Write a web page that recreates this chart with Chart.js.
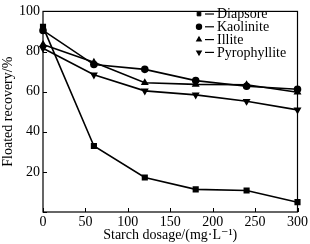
<!DOCTYPE html>
<html>
<head>
<meta charset="utf-8">
<script src="https://cdn.jsdelivr.net/npm/chart.js@4.4.1/dist/chart.umd.min.js"></script>
<style>
  html, body { margin: 0; padding: 0; background: #fff; }
  #wrap { width: 310px; height: 244px; }
</style>
</head>
<body>
<div id="wrap"><canvas id="c" width="310" height="244"></canvas></div>
<script>
// Dosage (mg/L) and floated recovery (%)
const dosage = [0, 60, 120, 180, 240, 300];
const diapsore = [92.3, 32.9, 17.2, 11.3, 10.7, 4.9];
const kaolinite = [90.5, 73.5, 71.1, 65.5, 62.7, 61.2];
const illite = [83.5, 74.6, 64.4, 63.6, 63.4, 59.7];
const pyrophyllite = [81.6, 68.4, 60.4, 58.4, 55.2, 50.9];
const names = ["Diapsore", "Kaolinite", "Illite", "Pyrophyllite"];
const styles = ["rect", "circle", "triangle", "triangle"];
const rotations = [0, 0, 0, 180];

const serif = "'Liberation Serif', 'DejaVu Serif', serif";

function pts(ys) {
    return dosage.map((x, i) => ({ x: x, y: ys[i] }));
}

const series = [diapsore, kaolinite, illite, pyrophyllite];
const datasets = series.map((ys, i) => ({
    label: names[i],
    data: pts(ys),
    borderColor: "#000",
    backgroundColor: "#000",
    borderWidth: 1.6,
    pointStyle: styles[i],
    rotation: rotations[i],
    pointRadius: i === 0 ? 3.2 : 3,
    clip: false,
}));

// frame, inward ticks and the legend
const decor = {
    id: "decor",
    afterDraw(chart) {
        const ctx = chart.ctx;
        const a = chart.chartArea;
        const xs = chart.scales.x, ys = chart.scales.y;
        ctx.save();
        ctx.strokeStyle = "#000";
        ctx.lineWidth = 1.2;
        ctx.strokeRect(a.left, a.top, a.right - a.left, a.bottom - a.top);
        ctx.lineWidth = 1;
        ctx.beginPath();
        xs.ticks.forEach(t => {
            const px = Math.round(xs.getPixelForValue(t.value)) + 0.5;
            ctx.moveTo(px, a.bottom);
            ctx.lineTo(px, a.bottom - 4);
        });
        ys.ticks.forEach(t => {
            const py = Math.round(ys.getPixelForValue(t.value)) + 0.5;
            ctx.moveTo(a.left, py);
            ctx.lineTo(a.left + 4, py);
        });
        ctx.stroke();

        // legend
        ctx.font = "14px " + serif;
        ctx.fillStyle = "#000";
        ctx.textBaseline = "middle";
        const lx = 199, ly0 = 14, dy = 12.8;
        names.forEach((n, i) => {
            const y = ly0 + i * dy;
            Chart.helpers.drawPoint(ctx, {
                pointStyle: styles[i], rotation: rotations[i],
                radius: 2.6, borderWidth: 1
            }, lx, y);
            ctx.beginPath();
            ctx.lineWidth = 1.2;
            ctx.moveTo(lx + 6, y);
            ctx.lineTo(lx + 15, y);
            ctx.stroke();
            ctx.fillText(n, lx + 18, y + 0.5);
        });
        ctx.restore();
    }
};

new Chart(document.getElementById("c"), {
    type: "line",
    data: { datasets: datasets },
    options: {
        responsive: false,
        animation: false,
        layout: { padding: { top: 3, right: 8, left: 0, bottom: 0 } },
        plugins: { legend: { display: false }, tooltip: { enabled: false } },
        scales: {
            x: {
                type: "linear",
                min: 0, max: 300,
                grid: { display: false, drawTicks: false },
                border: { display: false },
                ticks: { stepSize: 50, color: "#000", padding: 2, font: { family: serif, size: 14 } },
                title: { display: true, text: "Starch dosage/(mg·L\u207B\u00B9)", color: "#000", padding: { top: 0, bottom: 0 }, font: { family: serif, size: 14 } },
                afterFit(s) { s.height = 32; }
            },
            y: {
                min: 0, max: 100,
                grid: { display: false, drawTicks: false },
                border: { display: false },
                ticks: {
                    stepSize: 20, color: "#000", padding: 3, font: { family: serif, size: 14 },
                    callback: v => (v === 0 ? "" : v)
                },
                title: { display: true, text: "Floated recovery/%", color: "#000", padding: { top: 0, bottom: 0 }, font: { family: serif, size: 14 } },
                afterFit(s) { s.width = 43; }
            }
        }
    },
    plugins: [decor]
});
</script>
</body>
</html>
